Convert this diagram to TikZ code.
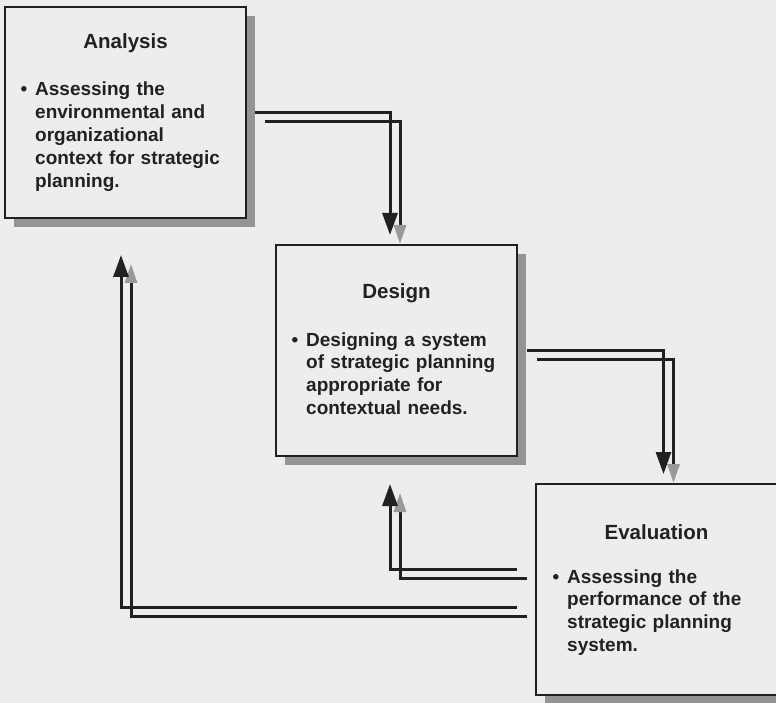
\documentclass[tikz,border=0pt]{standalone}
\usepackage{fontspec}
\setmainfont{Liberation Sans}
\usepackage{tikz}
\usetikzlibrary{positioning,calc,arrows.meta,shadows}
\definecolor{paper}{gray}{0.93}
\definecolor{ink}{gray}{0.13}
\tikzset{dbox/.style={draw=ink, line width=2.6pt, fill=paper, inner sep=0pt, outer sep=0pt, minimum width=241pt, minimum height=211pt, drop shadow={shadow xshift=9pt, shadow yshift=-9pt, fill=black!42, opacity=1}}}
\tikzset{dtitle/.style={text=ink, font=\fontsize{20.5}{24}\selectfont\bfseries, inner sep=0pt}}
\tikzset{dbody/.style={text=ink, font=\fontsize{19}{22.8}\selectfont\bfseries, inner sep=0pt, text width=225pt, align=left, anchor=base west}}
\tikzset{arr/.style={draw=ink, line width=3pt, -{Triangle[length=22pt,width=15pt]}}}
\tikzset{arrsh/.style={arr, transform canvas={shift={(10pt,-9pt)}}, -{Triangle[length=19pt,width=12pt,color=black!40]}}}
\newcommand{\bul}{\llap{\textbullet\hspace{8pt}}}

\begin{document}
\begin{tikzpicture}[x=1pt, y=-1pt]
	\useasboundingbox (0,0) rectangle (776,703);
	\fill[paper] (0,0) rectangle (776,703);
	% the three stages
	\node[dbox] (A) at (125.5,112.5) {};
	\node[dbox, below right=27pt and 30pt of A] (D) {};
	\node[dbox, below right=28pt and 19pt of D] (E) {};
	\node[dtitle] (At) at ([yshift=-36pt]A.north) {Analysis};
	\node[dtitle] (Dt) at ([yshift=-48pt]D.north) {Design};
	\node[dtitle] (Et) at ([yshift=-48pt]E.north) {Evaluation};
	\node[dbody] (Ab) at ([shift={(30pt,-89pt)}]A.north west)
		{\bul Assessing the\\ environmental and\\ organizational\\ context for strategic\\ planning.};
	\node[dbody] (Db) at ([shift={(30pt,-101pt)}]D.north west)
		{\bul Designing a system\\ of strategic planning\\ appropriate for\\ contextual needs.};
	\node[dbody] (Eb) at ([shift={(31pt,-99pt)}]E.north west)
		{\bul Assessing the\\ performance of the\\ strategic planning\\ system.};
	% shadow lines first
	\draw[arrsh] ([xshift=9pt]A.east) -| ([shift={(-6.5pt,10pt)}]D.north);
	\draw[arrsh] ([xshift=10pt]D.east) -| ([shift={(7pt,10pt)}]E.north);
	\draw[arrsh] ([shift={(-19pt,20.5pt)}]E.west) -| ([shift={(-6.5pt,-28pt)}]D.south);
	\draw[arrsh] ([shift={(-19pt,-17.5pt)}]E.west) -| ([shift={(-4.5pt,-37pt)}]A.south);
	% arrows
	\draw[arr] ([xshift=9pt]A.east) -| ([shift={(-6.5pt,10pt)}]D.north);
	\draw[arr] ([xshift=10pt]D.east) -| ([shift={(7pt,10pt)}]E.north);
	\draw[arr] ([shift={(-19pt,20.5pt)}]E.west) -| ([shift={(-6.5pt,-28pt)}]D.south);
	\draw[arr] ([shift={(-19pt,-17.5pt)}]E.west) -| ([shift={(-4.5pt,-37pt)}]A.south);
\end{tikzpicture}
\end{document}
